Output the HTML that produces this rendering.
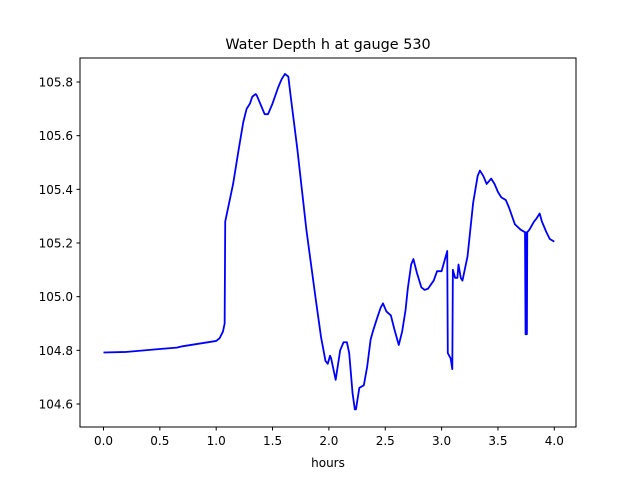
<!DOCTYPE html>
<html><head><meta charset="utf-8"><style>
body{margin:0;background:#fff}
svg text{font-family:"DejaVu Sans","Liberation Sans",sans-serif;font-size:12px;fill:#000}
</style></head><body>
<svg id="chart" width="640" height="480" viewBox="0 0 640 480" xmlns="http://www.w3.org/2000/svg">
<rect width="640" height="480" fill="#fff"/>
<text x="328" y="49" text-anchor="middle" style="font-size:14.4px">Water Depth h at gauge 530</text>
<g id="plot"></g>
<rect x="80" y="58" width="496" height="369" fill="none" stroke="#000" stroke-width="1"/>
<text x="328" y="467" text-anchor="middle">hours</text>
</svg>
<script>
const hours=[0,0.2,0.5,0.65,0.7,1.0,1.03,1.06,1.075,1.08,1.13,1.15,1.2,1.24,1.27,1.3,1.32,1.35,1.36,1.4,1.43,1.46,1.5,1.55,1.58,1.61,1.64,1.66,1.72,1.8,1.88,1.93,1.97,1.99,2.01,2.02,2.06,2.1,2.13,2.16,2.18,2.21,2.23,2.24,2.27,2.29,2.31,2.34,2.37,2.39,2.42,2.46,2.48,2.51,2.55,2.58,2.62,2.65,2.68,2.7,2.73,2.75,2.78,2.82,2.85,2.88,2.93,2.96,3.0,3.05,3.055,3.08,3.095,3.1,3.12,3.14,3.15,3.17,3.185,3.2,3.23,3.28,3.32,3.34,3.37,3.4,3.44,3.47,3.5,3.53,3.57,3.6,3.65,3.7,3.74,3.745,3.748,3.751,3.754,3.757,3.76,3.78,3.82,3.84,3.87,3.89,3.93,3.96,4.0];
const depth=[104.792,104.794,104.805,104.81,104.815,104.835,104.845,104.87,104.9,105.28,105.38,105.42,105.55,105.65,105.7,105.72,105.745,105.755,105.75,105.71,105.68,105.68,105.72,105.78,105.81,105.83,105.82,105.75,105.55,105.25,105.0,104.85,104.76,104.75,104.78,104.77,104.69,104.8,104.83,104.83,104.79,104.64,104.58,104.58,104.66,104.665,104.67,104.74,104.84,104.87,104.91,104.96,104.975,104.945,104.93,104.88,104.82,104.87,104.95,105.03,105.12,105.14,105.09,105.035,105.025,105.03,105.06,105.095,105.095,105.17,104.79,104.77,104.73,105.1,105.07,105.07,105.12,105.07,105.06,105.09,105.15,105.35,105.45,105.47,105.45,105.42,105.44,105.42,105.39,105.37,105.36,105.33,105.27,105.25,105.24,104.86,105.24,104.86,105.24,104.86,105.24,105.25,105.28,105.29,105.31,105.28,105.24,105.215,105.205];
const xTicks=[0,0.5,1,1.5,2,2.5,3,3.5,4];
const xTickLabels=["0.0","0.5","1.0","1.5","2.0","2.5","3.0","3.5","4.0"];
const yTicks=[104.6,104.8,105.0,105.2,105.4,105.6,105.8];
const yTickLabels=["104.6","104.8","105.0","105.2","105.4","105.6","105.8"];
const NS="http://www.w3.org/2000/svg";
function xs(v){return 103.5+v*(554.3-103.5)/4;}
function ys(v){return 404-(v-104.6)*(404-82)/1.2;}
const g=document.getElementById('plot');
function mk(t,a){const e=document.createElementNS(NS,t);for(const k in a)e.setAttribute(k,a[k]);return e;}
xTicks.forEach((t,i)=>{
 const l=mk('line',{x1:xs(t),x2:xs(t),y1:427,y2:430.5,stroke:'#000'});
 
 
 g.appendChild(l);
 const tx=mk('text',{x:xs(t),y:445,'text-anchor':'middle'});
 
 
 tx.textContent=xTickLabels[i];g.appendChild(tx);
});
yTicks.forEach((t,i)=>{
 const l=mk('line',{x1:76.5,x2:80,y1:ys(t),y2:ys(t),stroke:'#000'});
 
 
 g.appendChild(l);
 const tx=mk('text',{x:73,y:ys(t)+4.5,'text-anchor':'end'});
 
 
 tx.textContent=yTickLabels[i];g.appendChild(tx);
});
const pts=hours.map((h,i)=>xs(h).toFixed(2)+','+ys(depth[i]).toFixed(2)).join(' ');
const p=mk('polyline',{points:pts,fill:'none',stroke:'#0000ff','stroke-width':1.8,'stroke-linejoin':'round'});


g.appendChild(p);
</script>
</body></html>
